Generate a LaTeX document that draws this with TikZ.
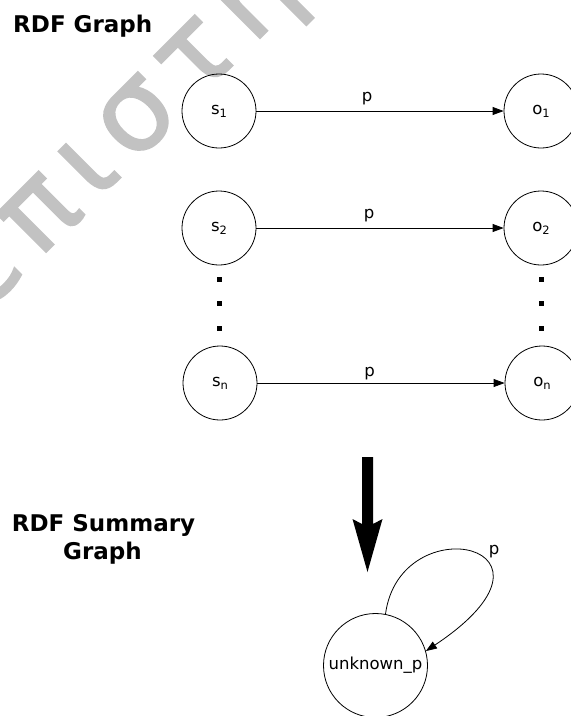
\documentclass[tikz,border=0pt]{standalone}
\usepackage{fontspec}
\setmainfont{DejaVu Sans}
\newfontfamily\stampfont[FakeBold=1.6]{DejaVu Sans}
\usetikzlibrary{arrows.meta}
\definecolor{wmgray}{RGB}{194,194,194}
% label with a lowered small index, as in s_1
\newcommand{\idxlabel}[2]{#1\raisebox{-3pt}{\fontsize{11.5}{12}\selectfont #2}}
\begin{document}
\begin{tikzpicture}[x=1pt,y=-1pt,
  res/.style={circle,draw,line width=0.8pt,minimum size=74pt,inner sep=0pt,
    font=\fontsize{16.5}{20}\selectfont},
  lbl/.style={font=\fontsize{16.5}{20}\selectfont,inner sep=0pt},
  heading/.style={font=\fontsize{23}{28}\selectfont\bfseries,inner sep=0pt},
  dotsq/.style={rectangle,fill=black,minimum size=5pt,inner sep=0pt},
  edge/.style={line width=0.8pt,-{Triangle[length=11pt,width=8pt]}}]
\useasboundingbox (0,0) rectangle (571,716);

% background stamp
\node[font=\fontsize{114}{120}\stampfont,text=wmgray,rotate=45,
  anchor=base west,inner sep=0pt] (stamp) at (-16,314)
  {ε\kern14ptπ\kern14ptι\kern14ptσ\kern14ptτ\kern14ptη\kern14ptμ\kern14ptη};

% headings
\node[heading,anchor=base west] (t1) at (13,32) {RDF Graph};
\node[heading,anchor=base] (t2a) at (103.5,531) {RDF Summary};
\node[heading,anchor=base] (t2b) at (102.5,559) {Graph};

% RDF graph: subjects and objects
\node[res] (s1) at (219,111) {\idxlabel{s}{1}};
\node[res] (o1) at (541,111) {\idxlabel{o}{1}};
\node[res] (s2) at (219,228) {\idxlabel{s}{2}};
\node[res] (o2) at (541,228) {\idxlabel{o}{2}};
\node[res] (sn) at (220,383) {\idxlabel{s}{n}};
\node[res] (on) at (542,383) {\idxlabel{o}{n}};

\draw[edge] (s1) -- (o1);
\draw[edge] (s2) -- (o2);
\draw[edge] (sn) -- (on);
\node[lbl] (p1) at (367,99) {p};
\node[lbl] (p2) at (369,216) {p};
\node[lbl] (pn) at (369.5,374) {p};

% vertical ellipses
\node[dotsq] (ls1) at (219,279) {};
\node[dotsq] (ls2) at (219,303) {};
\node[dotsq] (ls3) at (219,328) {};
\node[dotsq] (rs1) at (541,279) {};
\node[dotsq] (rs2) at (541,303) {};
\node[dotsq] (rs3) at (541,328) {};

% summarisation arrow
\fill (362,457) -- (373,457) -- (373,524) -- (382.5,519) -- (367.5,572)
  -- (352.5,519) -- (362,524) -- cycle;

% summary graph
\node[res,minimum size=104pt] (u) at (375.5,665.5) {unknown\_p};
\draw[edge] (u.79) .. controls (400,505) and (585,545) .. (u.16);
\node[lbl] (pu) at (494,552) {p};
\end{tikzpicture}
\end{document}
